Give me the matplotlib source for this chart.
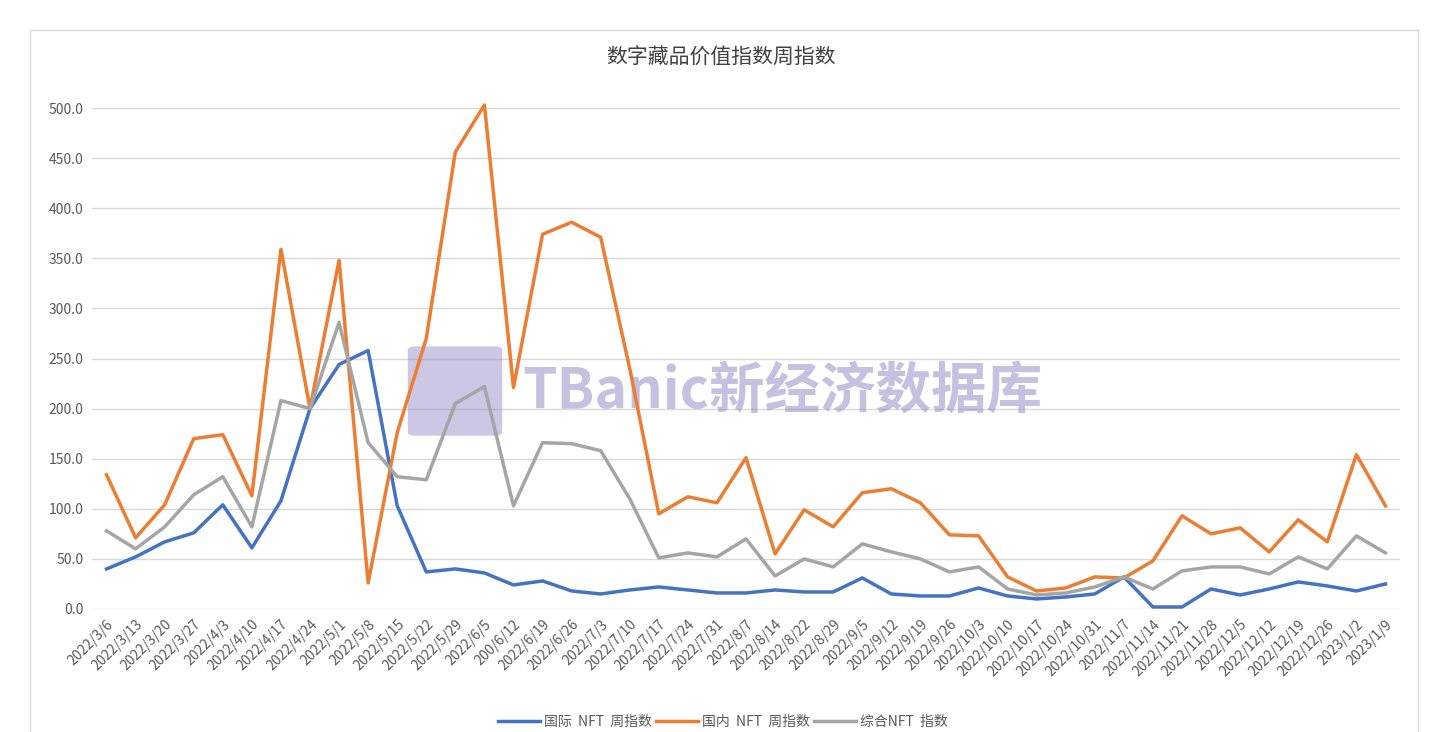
import matplotlib
matplotlib.use('Agg')
import matplotlib.pyplot as plt
from matplotlib.patches import Rectangle, FancyBboxPatch

plt.rcParams['font.family'] = ['Noto Sans CJK SC', 'DejaVu Sans']

dates = ['2022/3/6','2022/3/13','2022/3/20','2022/3/27','2022/4/3','2022/4/10','2022/4/17','2022/4/24',
         '2022/5/1','2022/5/8','2022/5/15','2022/5/22','2022/5/29','2022/6/5','200/6/12','2022/6/19',
         '2022/6/26','2022/7/3','2022/7/10','2022/7/17','2022/7/24','2022/7/31','2022/8/7','2022/8/14',
         '2022/8/22','2022/8/29','2022/9/5','2022/9/12','2022/9/19','2022/9/26','2022/10/3','2022/10/10',
         '2022/10/17','2022/10/24','2022/10/31','2022/11/7','2022/11/14','2022/11/21','2022/11/28',
         '2022/12/5','2022/12/12','2022/12/19','2022/12/26','2023/1/2','2023/1/9']
intl = [40, 52, 67, 76, 104, 61, 108, 200, 244, 258, 103, 37, 40, 36, 24, 28, 18, 15, 19, 22, 19, 16, 16,
        19, 17, 17, 31, 15, 13, 13, 21, 13, 10, 12, 15, 32, 2, 2, 20, 14, 20, 27, 23, 18, 25]
domestic = [134, 71, 104, 170, 174, 113, 359, 200, 348, 26, 176, 270, 456, 503, 221, 374, 386, 371, 240, 95,
            112, 106, 151, 55, 99, 82, 116, 120, 106, 74, 73, 32, 18, 21, 32, 31, 48, 93, 75, 81, 57, 89,
            67, 154, 103]
composite = [78, 60, 82, 114, 132, 82, 208, 200, 286, 166, 132, 129, 205, 222, 103, 166, 165, 158, 110, 51,
             56, 52, 70, 33, 50, 42, 65, 57, 50, 37, 42, 20, 14, 16, 22, 32, 20, 38, 42, 42, 35, 52, 40,
             73, 56]

fig = plt.figure(figsize=(14.42, 7.32), dpi=100)
# chart border
fig.patches.append(Rectangle((30/1442, -0.01), 1388/1442, (732-30)/732 + 0.01, transform=fig.transFigure,
                             fill=False, edgecolor='#d9d9d9', linewidth=1))
ax = fig.add_axes([92/1442, (732-609)/732, (1400-92)/1442, (609-108)/732])

x = list(range(len(dates)))
ax.plot(x, intl, color='#4472c4', lw=2.5, label='国际  NFT  周指数', clip_on=False, zorder=3)
ax.plot(x, domestic, color='#ed7d31', lw=2.5, label='国内  NFT  周指数', clip_on=False, zorder=3)
ax.plot(x, composite, color='#a5a5a5', lw=2.5, label='综合NFT  指数', clip_on=False, zorder=3)

ax.set_xlim(-0.5, len(dates) - 0.5)
ax.set_ylim(0, 500)
ax.set_yticks(range(0, 501, 50))
ax.set_yticklabels(['%.1f' % v for v in range(0, 501, 50)], color='#595959', fontsize=10)
ax.set_xticks(x)
ax.set_xticklabels(dates, rotation=45, ha='right', rotation_mode='anchor', color='#595959', fontsize=10)
ax.grid(axis='y', color='#d9d9d9', lw=1)
ax.set_axisbelow(True)
for s in ax.spines.values():
    s.set_visible(False)
ax.tick_params(length=0, pad=6)

fig.text(0.5, (732-58)/732, '数字藏品价值指数周指数', ha='center', va='center', fontsize=15, color='#404040')

# watermark, under the lines
ax.text(522/1442, (732-392)/732, 'TBanic新经济数据库', ha='left', va='center', fontsize=40,
        color='#8c84c4', alpha=0.5, fontweight='bold', zorder=2, transform=fig.transFigure)
ax.add_patch(FancyBboxPatch((415/1442, (732-432)/732), 80/1442, 82/732, transform=fig.transFigure,
                            boxstyle='round,pad=0.005', facecolor='#8c84c4', alpha=0.45,
                            edgecolor='none', zorder=2, clip_on=False))

fig.legend(loc='center', bbox_to_anchor=(723/1442, (732-722)/732), ncol=3, frameon=False, fontsize=10,
           handlelength=3, columnspacing=0.3, handletextpad=0.3, labelcolor='#595959')

fig.savefig('out.png', dpi=100)
